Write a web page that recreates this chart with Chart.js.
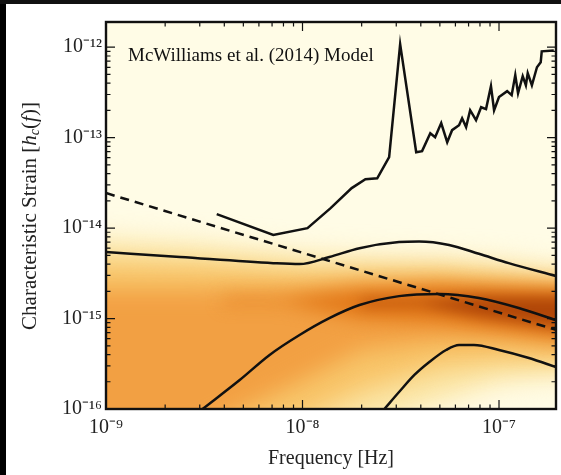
<!DOCTYPE html>
<html>
<head>
<meta charset="utf-8">
<script src="https://cdn.jsdelivr.net/npm/chart.js@4.4.1/dist/chart.umd.min.js"></script>
<style>
  html, body { margin: 0; padding: 0; background: #fff; }
  #wrap { position: relative; width: 561px; height: 475px; overflow: hidden; }
  #edgeLeft { position: absolute; left: 0; top: 0; width: 6px; height: 475px; background: #000; }
  #edgeTop { position: absolute; left: 0; top: 0; width: 561px; height: 4px; background: #111; }
</style>
</head>
<body>
<div id="wrap">
  <canvas id="chart" width="561" height="475"></canvas>
  <div id="edgeLeft"></div>
  <div id="edgeTop"></div>
</div>
<script>
// axis ticks
const xTicks = [1e-9, 1e-8, 1e-7];
const xTickLabels = ['10⁻⁹', '10⁻⁸', '10⁻⁷'];
const yTicks = [1e-16, 1e-15, 1e-14, 1e-13, 1e-12];
const yTickLabels = ['10⁻¹⁶', '10⁻¹⁵', '10⁻¹⁴', '10⁻¹³', '10⁻¹²'];

// PTA sensitivity curve
const sensFreq = [3.66e-9, 7.1e-9, 1.06e-8, 1.39e-8, 1.78e-8, 2.09e-8, 2.4e-8, 2.76e-8, 3.14e-8,
  3.79e-8, 4.06e-8, 4.47e-8, 4.73e-8, 5.08e-8, 5.45e-8, 5.77e-8, 6.26e-8, 6.49e-8, 6.8e-8,
  7.13e-8, 7.64e-8, 8.11e-8, 8.59e-8, 9.1e-8, 9.44e-8, 1.0e-7, 1.1e-7, 1.16e-7, 1.21e-7,
  1.25e-7, 1.32e-7, 1.37e-7, 1.4e-7, 1.47e-7, 1.56e-7, 1.63e-7, 1.65e-7, 1.9e-7];
const sensStrain = [1.43e-14, 8.4e-15, 1.0e-14, 1.66e-14, 2.77e-14, 3.47e-14, 3.55e-14, 6.1e-14, 1.08e-12,
  6.9e-14, 7.1e-14, 1.12e-13, 1.01e-13, 1.45e-13, 8.9e-14, 1.21e-13, 1.37e-13, 1.64e-13, 1.31e-13,
  2.01e-13, 1.56e-13, 2.17e-13, 2.07e-13, 3.71e-13, 2.01e-13, 2.81e-13, 3.27e-13, 2.95e-13, 4.91e-13,
  3.1e-13, 4.79e-13, 3.8e-13, 5.17e-13, 3.8e-13, 6.01e-13, 6.82e-13, 9.0e-13, 9.2e-13];

// power law (dashed)
const powerFreq = [1e-9, 1.95e-7];
const powerStrain = [2.44e-14, 7.5e-16];

// model curves
const upperFreq = [1e-9, 2.38e-9, 7.1e-9, 9.66e-9, 1.37e-8, 1.95e-8, 3.1e-8, 3.92e-8, 5.57e-8, 7.9e-8, 1.12e-7, 1.95e-7];
const upperStrain = [5.43e-15, 4.79e-15, 4.1e-15, 4.0e-15, 4.79e-15, 6.0e-15, 7.0e-15, 7.1e-15, 6.5e-15, 5.2e-15, 4.1e-15, 2.95e-15];
const middleFreq = [3.1e-9, 4.79e-9, 6.8e-9, 9.66e-9, 1.37e-8, 1.95e-8, 3.1e-8, 4.96e-8, 7.9e-8, 1.26e-7, 1.95e-7];
const middleStrain = [1e-16, 2.09e-16, 3.96e-16, 6.58e-16, 1.01e-15, 1.41e-15, 1.77e-15, 1.87e-15, 1.69e-15, 1.31e-15, 9.6e-16];
const lowerFreq = [2.61e-8, 3.1e-8, 3.71e-8, 4.42e-8, 5.38e-8, 6.26e-8, 7.46e-8, 1.0e-7, 1.42e-7, 1.95e-7];
const lowerStrain = [1e-16, 1.54e-16, 2.38e-16, 3.31e-16, 4.49e-16, 5.1e-16, 5.1e-16, 4.49e-16, 3.66e-16, 2.91e-16];

// density background, bands from light to dark
const bandFreq = [1e-9, 3e-9, 1e-8, 2e-8, 5e-8, 1e-7, 1.95e-7];
const paleTop = [7.4e-15, 6.5e-15, 5.0e-15, 4.7e-15, 4.4e-15, 4.1e-15, 3.4e-15];
const paleBottom = [5e-17, 5e-17, 5e-17, 6e-17, 1.2e-16, 2.0e-16, 2.4e-16];
const lightTop = [4.2e-15, 3.9e-15, 3.3e-15, 3.3e-15, 3.4e-15, 3.0e-15, 2.7e-15];
const lightBottom = [4.5e-17, 4.5e-17, 7.6e-17, 1.6e-16, 2.9e-16, 3.4e-16, 3.4e-16];
const orangeTop = [2.1e-15, 2.1e-15, 2.2e-15, 2.5e-15, 2.5e-15, 2.3e-15, 2.2e-15];
const orangeBottom = [4.5e-17, 5.9e-17, 2.1e-16, 4.5e-16, 5.8e-16, 5.8e-16, 5.1e-16];
const coreFreq = [8e-9, 2e-8, 5e-8, 1e-7, 1.95e-7];
const coreTop = [1.7e-15, 2.1e-15, 2.3e-15, 2.2e-15, 2.1e-15];
const coreBottom = [1.5e-15, 1.0e-15, 9.0e-16, 7.5e-16, 6.2e-16];
const darkFreq = [4e-8, 8e-8, 1.95e-7];
const darkTop = [1.6e-15, 1.75e-15, 1.75e-15];
const darkBottom = [1.4e-15, 1.05e-15, 8.0e-16];

const bands = [
    { freq: bandFreq, top: paleTop, bottom: paleBottom, color: '#fbe4a2', blur: 14 },
    { freq: bandFreq, top: lightTop, bottom: lightBottom, color: '#f8c468', blur: 12 },
    { freq: bandFreq, top: orangeTop, bottom: orangeBottom, color: '#f2a043', blur: 11 },
    { freq: coreFreq, top: coreTop, bottom: coreBottom, color: '#e27818', blur: 9 },
    { freq: darkFreq, top: darkTop, bottom: darkBottom, color: '#b04608', blur: 7 },
];

const pts = (fs, hs) => fs.map((f, i) => ({ x: f, y: hs[i] }));
const serif = 'Liberation Serif';

const densityPlugin = {
    id: 'density',
    beforeDatasetsDraw(chart) {
        const { ctx, chartArea: a, scales: { x, y } } = chart;
        ctx.save();
        ctx.beginPath();
        ctx.rect(a.left, a.top, a.right - a.left, a.bottom - a.top);
        ctx.clip();
        ctx.fillStyle = '#fffce6';
        ctx.fillRect(a.left, a.top, a.right - a.left, a.bottom - a.top);
        bands.forEach(b => {
            const top = b.freq.map((f, i) => [x.getPixelForValue(f), y.getPixelForValue(b.top[i])]);
            const bot = b.freq.map((f, i) => [x.getPixelForValue(f), y.getPixelForValue(b.bottom[i])]);
            ctx.filter = `blur(${b.blur}px)`;
            ctx.fillStyle = b.color;
            ctx.beginPath();
            ctx.moveTo(top[0][0] - 60, top[0][1]);
            top.forEach(p => ctx.lineTo(p[0], p[1]));
            ctx.lineTo(top[top.length - 1][0] + 60, top[top.length - 1][1]);
            ctx.lineTo(bot[bot.length - 1][0] + 60, bot[bot.length - 1][1]);
            bot.slice().reverse().forEach(p => ctx.lineTo(p[0], p[1]));
            ctx.lineTo(bot[0][0] - 60, bot[0][1]);
            ctx.closePath();
            ctx.fill();
        });
        ctx.restore();
    },
    afterDraw(chart) {
        const { ctx, chartArea: a, scales: { x, y } } = chart;
        ctx.save();
        ctx.strokeStyle = '#111';
        ctx.lineWidth = 1.2;
        // inward ticks on all four sides
        for (let d = -10; d <= -6; d++) {
            for (let m = 1; m <= 9; m++) {
                const v = m * Math.pow(10, d);
                const len = m === 1 ? 9 : 4.5;
                if (v >= x.min && v <= x.max) {
                    const px = x.getPixelForValue(v);
                    ctx.beginPath();
                    ctx.moveTo(px, a.bottom); ctx.lineTo(px, a.bottom - len);
                    ctx.moveTo(px, a.top); ctx.lineTo(px, a.top + len);
                    ctx.stroke();
                }
            }
        }
        for (let d = -17; d <= -11; d++) {
            for (let m = 1; m <= 9; m++) {
                const v = m * Math.pow(10, d);
                const len = m === 1 ? 9 : 4.5;
                if (v >= y.min && v <= y.max) {
                    const py = y.getPixelForValue(v);
                    ctx.beginPath();
                    ctx.moveTo(a.left, py); ctx.lineTo(a.left + len, py);
                    ctx.moveTo(a.right, py); ctx.lineTo(a.right - len, py);
                    ctx.stroke();
                }
            }
        }
        ctx.lineWidth = 2.4;
        ctx.strokeRect(a.left, a.top, a.right - a.left, a.bottom - a.top);

        // model label
        ctx.fillStyle = '#111';
        ctx.font = `19px "${serif}"`;
        ctx.textBaseline = 'middle';
        ctx.textAlign = 'left';
        ctx.fillText('McWilliams et al. (2014) Model', 128, 56);

        // y axis title with italic h, subscript c
        ctx.fillStyle = '#222';
        ctx.translate(30, 216);
        ctx.rotate(-Math.PI / 2);
        const parts = [
            ['Characteristic Strain [', `21px "${serif}"`, 0],
            ['h', `italic 21px "${serif}"`, 0],
            ['c', `italic 14px "${serif}"`, 5],
            ['(', `21px "${serif}"`, 0],
            ['f', `italic 21px "${serif}"`, 0],
            [')]', `21px "${serif}"`, 0],
        ];
        let total = 0;
        parts.forEach(p => { ctx.font = p[1]; total += ctx.measureText(p[0]).width; });
        let cx = -total / 2;
        parts.forEach(p => {
            ctx.font = p[1];
            ctx.fillText(p[0], cx, p[2]);
            cx += ctx.measureText(p[0]).width;
        });
        ctx.restore();
    }
};

const line = (data, dash) => ({
    data,
    borderColor: '#111',
    borderWidth: 2.5,
    borderDash: dash || [],
    pointRadius: 0,
    fill: false,
    tension: 0,
});
const smooth = (data) => Object.assign(line(data), { cubicInterpolationMode: 'monotone' });

const ctx = document.getElementById('chart').getContext('2d');
new Chart(ctx, {
    type: 'line',
    data: {
        datasets: [
            line(pts(sensFreq, sensStrain)),
            line(pts(powerFreq, powerStrain), [9, 6]),
            smooth(pts(upperFreq, upperStrain)),
            smooth(pts(middleFreq, middleStrain)),
            smooth(pts(lowerFreq, lowerStrain)),
        ]
    },
    options: {
        responsive: false,
        animation: false,
        layout: { padding: { top: 22, right: 5, left: 0, bottom: 0 } },
        plugins: { legend: { display: false }, tooltip: { enabled: false } },
        scales: {
            x: {
                type: 'logarithmic',
                min: 1e-9,
                max: 1.95e-7,
                grid: { display: false, drawTicks: false },
                border: { display: false },
                afterBuildTicks: (s) => { s.ticks = xTicks.map(v => ({ value: v })); },
                afterFit: (s) => { s.height = 66; },
                ticks: {
                    autoSkip: false,
                    maxRotation: 0,
                    padding: 7,
                    color: '#222',
                    font: { family: serif, size: 20 },
                    callback: (v) => xTickLabels[xTicks.indexOf(v)] || '',
                },
                title: {
                    display: true,
                    text: 'Frequency [Hz]',
                    color: '#222',
                    font: { family: serif, size: 20 },
                    padding: { top: 0, bottom: 4 },
                },
            },
            y: {
                type: 'logarithmic',
                min: 1e-16,
                max: 1.9e-12,
                grid: { display: false, drawTicks: false },
                border: { display: false },
                afterBuildTicks: (s) => { s.ticks = yTicks.map(v => ({ value: v })); },
                afterFit: (s) => { s.width = 106; },
                ticks: {
                    autoSkip: false,
                    padding: 4,
                    color: '#222',
                    font: { family: serif, size: 20 },
                    callback: (v) => yTickLabels[yTicks.indexOf(v)] || '',
                },
            },
        },
    },
    plugins: [densityPlugin],
});
</script>
</body>
</html>
